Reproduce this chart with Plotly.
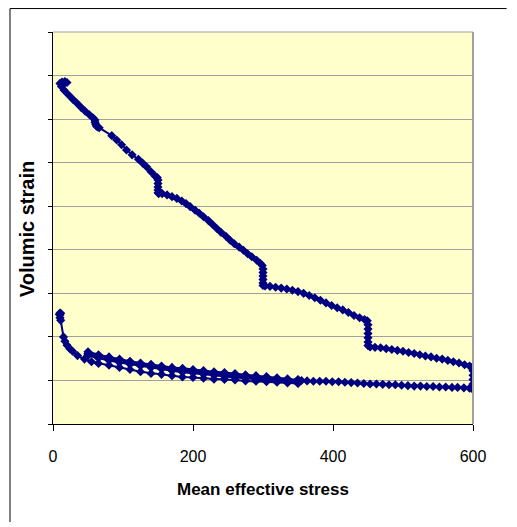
import plotly.graph_objects as go

# ---- data (mean effective stress, volumic strain in grid units) ----
load_x = [10, 13, 17, 20, 15, 12, 16, 22, 28, 34, 40, 46, 52, 57, 60, 60, 61, 62, 64, 66,
          84, 91, 98, 105, 113, 122, 128, 134, 140, 146, 149,
          150, 150, 150, 150, 150, 151, 156, 163, 170, 177, 184, 190, 196, 203, 209, 215,
          222, 228, 234, 240, 247, 253, 259, 266, 272, 278, 284, 291, 296, 299,
          300, 300, 300, 300, 300, 300, 303, 310, 318, 326, 334, 342, 350, 358, 366, 374,
          382, 390, 398, 406, 414, 422, 430, 438, 445, 449,
          450, 450, 450, 450, 450, 450, 453, 460, 468, 476, 484, 492, 500, 508, 516, 524,
          532, 540, 548, 556, 564, 572, 580, 588, 595, 599,
          600, 600, 600, 600, 600, 600]
load_y = [7.82, 7.85, 7.86, 7.84, 7.80, 7.75, 7.66, 7.56, 7.46, 7.37, 7.27, 7.18, 7.10, 7.03, 6.98, 6.93, 6.88, 6.84, 6.82, 6.80,
          6.62, 6.52, 6.41, 6.29, 6.18, 6.08, 5.99, 5.90, 5.79, 5.69, 5.66,
          5.60, 5.52, 5.44, 5.37, 5.31, 5.29, 5.29, 5.26, 5.22, 5.18, 5.12, 5.06, 4.99, 4.91, 4.84, 4.76,
          4.67, 4.58, 4.49, 4.40, 4.31, 4.22, 4.14, 4.06, 3.99, 3.91, 3.84, 3.76, 3.69, 3.64,
          3.56, 3.48, 3.40, 3.32, 3.24, 3.18, 3.17, 3.16, 3.14, 3.12, 3.10, 3.07, 3.04, 3.00, 2.95, 2.90,
          2.84, 2.78, 2.72, 2.67, 2.62, 2.56, 2.49, 2.44, 2.40, 2.37,
          2.28, 2.18, 2.08, 1.98, 1.88, 1.80, 1.77, 1.76, 1.75, 1.73, 1.71, 1.69, 1.67, 1.64, 1.62, 1.59,
          1.56, 1.54, 1.51, 1.49, 1.46, 1.43, 1.40, 1.36, 1.33, 1.31,
          1.22, 1.12, 1.02, 0.92, 0.84, 0.79]

unload_x = [595, 587, 578, 570, 561, 552, 543, 534, 525, 516, 507, 498, 489, 480, 471, 462,
            453, 444, 435, 426, 417, 408, 399, 390, 381, 372, 363, 355, 350]
unload_y = [0.82, 0.83, 0.84, 0.84, 0.85, 0.85, 0.86, 0.86, 0.87, 0.87, 0.88, 0.89, 0.90, 0.90, 0.91, 0.92,
            0.92, 0.93, 0.94, 0.95, 0.96, 0.97, 0.97, 0.98, 0.98, 0.98, 0.99, 1.00, 1.01]

cyc_down_x = [350, 335, 320, 305, 290, 275, 260, 245, 230, 215, 200, 185, 170, 155, 140, 125, 110, 95, 80, 65, 50]
cyc_up_x = [50, 65, 80, 95, 110, 125, 140, 155, 170, 185, 200, 215, 230, 245, 260, 275, 290, 305, 320, 335, 350]

c1u_y = [1.02, 1.04, 1.06, 1.09, 1.11, 1.13, 1.16, 1.18, 1.20, 1.23, 1.25, 1.28, 1.30, 1.33, 1.37, 1.40, 1.44, 1.49, 1.54, 1.59, 1.66]
c1r_y = [1.62, 1.55, 1.50, 1.45, 1.40, 1.36, 1.33, 1.29, 1.26, 1.23, 1.21, 1.18, 1.15, 1.13, 1.11, 1.08, 1.06, 1.04, 1.01, 0.99, 0.97]
c2u_y = [0.97, 1.00, 1.02, 1.05, 1.07, 1.10, 1.12, 1.15, 1.17, 1.20, 1.22, 1.25, 1.28, 1.31, 1.34, 1.38, 1.42, 1.46, 1.51, 1.56, 1.60]
c2r_y = [1.57, 1.51, 1.46, 1.41, 1.37, 1.33, 1.29, 1.26, 1.22, 1.19, 1.17, 1.14, 1.12, 1.09, 1.07, 1.05, 1.02, 1.00, 0.98, 0.96, 0.94]

final_x = [350, 335, 320, 305, 290, 275, 260, 245, 230, 215, 200, 185, 170, 155, 140, 125, 110, 95, 80,
           65, 55, 45, 35, 28, 24, 20, 17, 15, 11, 10, 10, 11, 10, 9]
final_y = [0.93, 0.94, 0.96, 0.97, 0.98, 0.99, 1.01, 1.02, 1.03, 1.05, 1.07, 1.08, 1.11, 1.14, 1.16, 1.20, 1.25, 1.30, 1.35,
           1.39, 1.43, 1.49, 1.57, 1.67, 1.73, 1.81, 1.90, 2.00, 2.38, 2.44, 2.50, 2.54, 2.55, 2.52]

x_ticks = [0, 200, 400, 600]
x_tick_labels = ["0", "200", "400", "600"]

xs = load_x + unload_x + cyc_down_x + cyc_up_x + cyc_down_x + cyc_up_x + final_x
ys = load_y + unload_y + c1u_y + c1r_y + c2u_y + c2r_y + final_y

NAVY = "#000080"
FONT = "Liberation Sans, Arial, sans-serif"

fig = go.Figure()
fig.add_trace(go.Scatter(
    x=xs, y=ys, mode="lines+markers",
    line=dict(color=NAVY, width=2),
    marker=dict(symbol="diamond", size=7, color=NAVY),
    showlegend=False, hoverinfo="skip",
))

fig.update_layout(
    width=509, height=519,
    margin=dict(l=45, r=44, t=24, b=103),
    paper_bgcolor="white",
    plot_bgcolor="#FFFFCC",
    font=dict(family=FONT, color="black", size=16),
    xaxis=dict(range=[0, 600], tickvals=x_ticks, ticktext=x_tick_labels,
               showgrid=False, zeroline=False, showline=True, linecolor="black", linewidth=1,
               ticks="outside", ticklen=6, tickcolor="black", tickfont=dict(size=16),
               ticklabelstandoff=12),
    yaxis=dict(range=[0, 9], dtick=1, tick0=0, showticklabels=False,
               showgrid=True, gridcolor="#A0A0A0", gridwidth=1, zeroline=False,
               showline=True, linecolor="black", linewidth=1,
               ticks="outside", ticklen=4, tickcolor="black"),
    shapes=[
        dict(type="line", xref="paper", yref="paper", x0=1, x1=1, y0=0, y1=1,
             line=dict(color="#A0A0A0", width=2)),
        dict(type="line", xref="paper", yref="paper", x0=0, x1=1, y0=1, y1=1,
             line=dict(color="#A0A0A0", width=1)),
        dict(type="line", xref="paper", yref="paper", x0=-0.1024, x1=-0.1024, y0=-0.25, y1=1.0598,
             line=dict(color="black", width=1), layer="below"),
        dict(type="line", xref="paper", yref="paper", x0=-0.1024, x1=1.08, y0=1.0598, y1=1.0598,
             line=dict(color="black", width=1), layer="below"),
    ],
    annotations=[
        dict(text="<b>Mean effective stress</b>", xref="paper", yref="paper", x=0.5, y=-0.168,
             xanchor="center", yanchor="middle", showarrow=False, font=dict(size=17)),
        dict(text="<b>Volumic strain</b>", xref="paper", yref="paper", x=-0.062, y=0.497,
             xanchor="center", yanchor="middle", showarrow=False, textangle=-90, font=dict(size=20)),
    ],
)

fig.write_html("out.html")
